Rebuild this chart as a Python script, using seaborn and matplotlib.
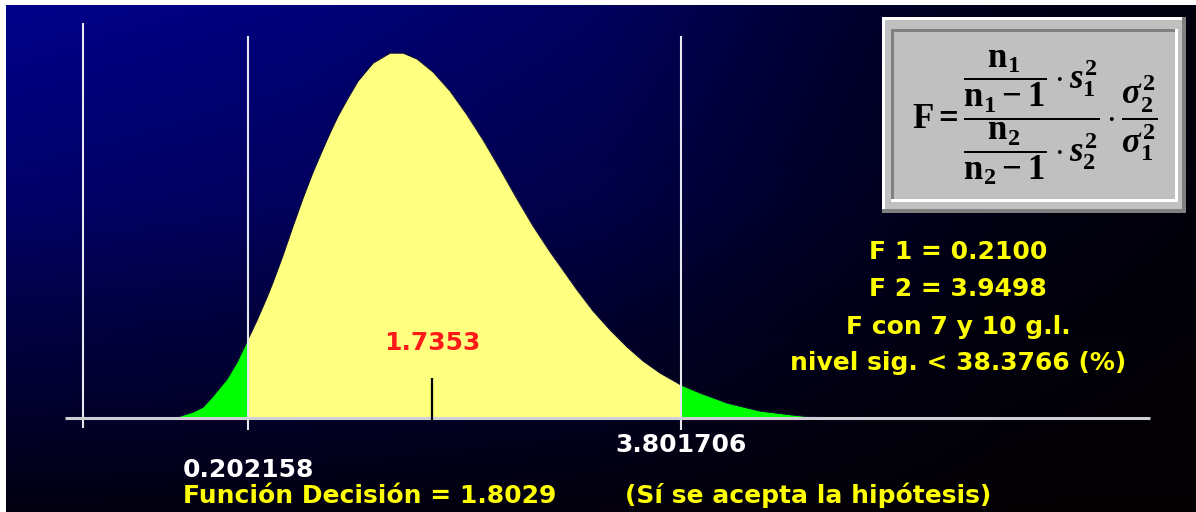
import numpy as np
import pandas as pd
import matplotlib
matplotlib.use("Agg")
import matplotlib.pyplot as plt
from matplotlib.patches import Rectangle
import seaborn as sns

# Density of the F statistic (7 and 10 degrees of freedom), as plotted
f_values = [-0.388, -0.255, -0.172, -0.089, 0.027, 0.111, 0.202158, 0.277, 0.360,
            0.410, 0.493, 0.576, 0.659, 0.742, 0.817, 0.883, 0.950, 1.033, 1.116,
            1.241, 1.382, 1.490, 1.607, 1.740, 1.881, 2.023, 2.156, 2.297, 2.438,
            2.571, 2.713, 2.796, 2.937, 3.070, 3.212, 3.353, 3.486, 3.627,
            3.801706, 3.960, 4.185, 4.459, 4.733, 4.900, 5.066]
density = [0.002, 0.012, 0.022, 0.044, 0.078, 0.112, 0.158, 0.196, 0.242,
           0.272, 0.326, 0.384, 0.440, 0.492, 0.534, 0.570, 0.604, 0.640, 0.674,
           0.710, 0.730, 0.730, 0.718, 0.692, 0.654, 0.606, 0.556, 0.498, 0.438,
           0.384, 0.332, 0.304, 0.256, 0.214, 0.176, 0.142, 0.114, 0.090,
           0.066, 0.050, 0.030, 0.014, 0.006, 0.002, 0.000]

critical_low = 0.202158
critical_high = 3.801706
f_observed = 1.7353
decision_value = 1.8029
f1 = 0.2100
f2 = 3.9498
df_num, df_den = 7, 10
sig_level = 38.3766
decision_text = "(Sí se acepta la hipótesis)"

W, H = 1196, 512
fig = plt.figure(figsize=(W / 100, H / 100), dpi=100)

# ---- background: blue fading to black towards the right and bottom ----
bg = fig.add_axes([0, 0, 1, 1])
xs = np.arange(W)
ys = np.arange(H)
fx = np.interp(xs, [0, 300, 600, 800, 1000, 1196], [1.0, 0.88, 0.68, 0.40, 0.18, 0.10])
fy = np.interp(ys, [0, 200, 300, 420, 512], [1.0, 0.75, 0.52, 0.30, 0.12])
blue = 140 * np.outer(fy, fx) / 255.0
img = np.zeros((H, W, 3))
img[..., 2] = blue
img[..., 0] = 0.03 * np.outer(ys / H, np.ones(W)) * 0.4
bg.imshow(img, aspect="auto", interpolation="bilinear")
bg.axis("off")

# ---- plotting axes in data units ----
ax = fig.add_axes([0, 0, 1, 1])
ax.patch.set_alpha(0)
ax.axis("off")
px_per_f = 120.29
x_origin_px = 223.7
px_per_density = 500.0
axis_row_px = 418.0
ax.set_xlim(-x_origin_px / px_per_f, (W - x_origin_px) / px_per_f)
ax.set_ylim(-(H - axis_row_px) / px_per_density, axis_row_px / px_per_density)

curve = pd.DataFrame({"F": f_values, "densidad": density})
x = curve["F"].to_numpy()
y = curve["densidad"].to_numpy()
ax.fill_between(x, 0, y, where=(x >= critical_low) & (x <= critical_high),
                color="#ffff80", lw=0, zorder=2)
ax.fill_between(x, 0, y, where=x <= critical_low, color="#00ff00", lw=0, zorder=2)
ax.fill_between(x, 0, y, where=x >= critical_high, color="#00ff00", lw=0, zorder=2)
sns.lineplot(data=curve, x="F", y="densidad", ax=ax, color="#12123a",
             lw=0.7, zorder=3)
ax.set_xlabel("")
ax.set_ylabel("")
ax.axis("off")

# vertical axis line and the two critical values
y_axis_f = -1.17
ax.vlines(y_axis_f, -0.02, 0.790, color="#e8e8f0", lw=1.5, zorder=4)
ax.vlines([critical_low, critical_high], -0.024, 0.764, color="#e8e8f0",
          lw=1.5, zorder=4)
# horizontal axis
ax.hlines(0, -1.32, 7.70, color="#cfcfd6", lw=2.2, zorder=4)
# observed statistic marker
ax.vlines(f_observed, -0.004, 0.080, color="black", lw=1.6, zorder=5)

bold = dict(fontweight="bold", fontsize=18, family="DejaVu Sans")
ax.text(f_observed, (axis_row_px - 350) / px_per_density, f"{f_observed:.4f}",
        color="#ff1a1a", ha="center", va="baseline", zorder=6, **bold)
ax.text(critical_low, (axis_row_px - 477) / px_per_density, f"{critical_low:.6f}",
        color="white", ha="center", va="baseline", **bold)
ax.text(critical_high, (axis_row_px - 452) / px_per_density, f"{critical_high:.6f}",
        color="white", ha="center", va="baseline", **bold)

yellow = "#ffff00"
fig.text(183 / W, 1 - 503 / H, f"Función Decisión = {decision_value:.4f}",
         color=yellow, ha="left", va="baseline", **bold)
fig.text(625 / W, 1 - 503 / H, decision_text, color=yellow, ha="left",
         va="baseline", **bold)

info_lines = [
    (259, f"F 1 = {f1:.4f}"),
    (296, f"F 2 = {f2:.4f}"),
    (334, f"F con {df_num} y {df_den} g.l."),
    (370, f"nivel sig. < {sig_level:.4f} (%)"),
]
for row, txt in info_lines:
    fig.text(958 / W, 1 - row / H, txt, color=yellow, ha="center",
             va="baseline", **bold)


# ---- formula panel with 3D frame ----
def panel(x0, y0, x1, y1, color):
    fig.patches.append(Rectangle((x0 / W, 1 - y1 / H), (x1 - x0) / W, (y1 - y0) / H,
                                 transform=fig.transFigure, color=color, lw=0,
                                 zorder=8))


panel(882, 17, 1186, 213, "#808080")
panel(882, 17, 1182, 209, "#ffffff")
panel(885, 20, 1182, 209, "#c0c0c0")
panel(891, 29, 1178, 202, "#ffffff")
panel(891, 29, 1175, 199, "#808080")
panel(894, 32, 1175, 199, "#c0c0c0")

plt.rcParams["mathtext.fontset"] = "custom"
plt.rcParams["mathtext.rm"] = "Liberation Serif:bold"
plt.rcParams["mathtext.it"] = "Liberation Serif:bold:italic"
plt.rcParams["mathtext.bf"] = "Liberation Serif:bold"
formula = (r"$\mathrm{F} = \dfrac{\dfrac{\mathrm{n}_1}{\mathrm{n}_1 - 1}\cdot s_1^2}"
           r"{\dfrac{\mathrm{n}_2}{\mathrm{n}_2 - 1}\cdot s_2^2}"
           r"\cdot\dfrac{\sigma_2^2}{\sigma_1^2}$")
fig.text(1035 / W, 1 - 118 / H, formula, color="black", ha="center", va="center",
         fontsize=25, zorder=9)

# window edges
fig.patches.append(Rectangle((0, 1 - 5 / H), 1, 5 / H, transform=fig.transFigure,
                             color="white", lw=0, zorder=10))
fig.patches.append(Rectangle((0, 0), 6 / W, 1, transform=fig.transFigure,
                             color="white", lw=0, zorder=10))

fig.savefig("out.png", dpi=100)
